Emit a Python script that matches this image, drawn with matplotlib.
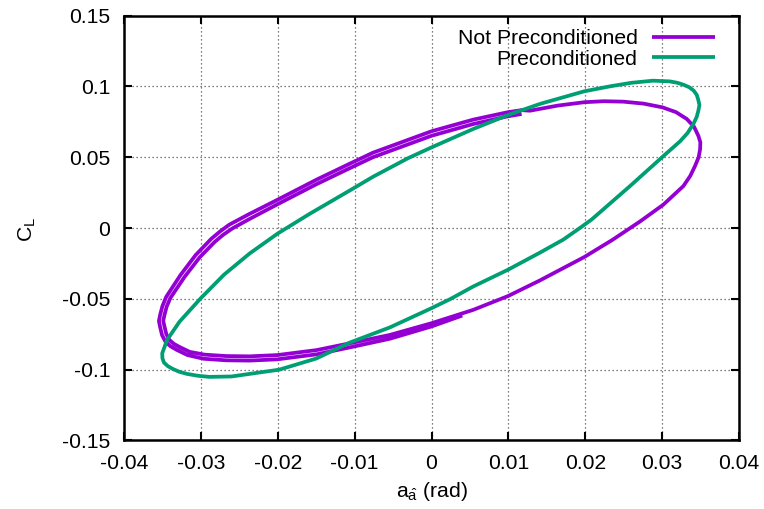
import matplotlib
matplotlib.use("Agg")
import matplotlib.pyplot as plt
from matplotlib.ticker import FixedLocator

plt.rcParams["font.family"] = ["Liberation Sans", "DejaVu Sans"]
plt.rcParams["mathtext.fontset"] = "custom"
plt.rcParams["mathtext.rm"] = "Liberation Sans"
plt.rcParams["axes.unicode_minus"] = False

# Lift coefficient vs. pitch angle, run without preconditioning (transient spiral)
not_pre_alpha = [
    0.01172, 0.00997, 0.00542, 0.0, -0.00760, -0.01064, -0.01497, -0.02005,
    -0.02366, -0.02590, -0.02710, -0.02820, -0.03017, -0.03212, -0.03398,
    -0.03445, -0.03473, -0.03490, -0.03473, -0.03450, -0.03408, -0.03350,
    -0.03277, -0.03147, -0.02952, -0.02669, -0.02366, -0.02005, -0.01497,
    -0.01064, -0.00543, 0.0, 0.00542, 0.00997, 0.01410, 0.01987, 0.02350,
    0.02712, 0.03016, 0.03276, 0.03365, 0.03428, 0.03475, 0.03494, 0.03497,
    0.03471, 0.03415, 0.03320, 0.03180, 0.03003, 0.02760, 0.02495, 0.02240,
    0.01987, 0.01640, 0.01280,
    0.01172, 0.00997, 0.00542, 0.0, -0.00760, -0.01064, -0.01497, -0.02005,
    -0.02380, -0.02632, -0.02752, -0.02866, -0.03068, -0.03265, -0.03452,
    -0.03500, -0.03530, -0.03546, -0.03530, -0.03505, -0.03460, -0.03395,
    -0.03315, -0.03175, -0.02965, -0.02669, -0.02366, -0.02005, -0.01497,
    -0.01064, -0.00543, 0.0, 0.00400,
]
not_pre_cl = [
    0.0805, 0.0789, 0.0734, 0.0651, 0.0500, 0.0422, 0.0309, 0.0167,
    0.0064, -0.0003, -0.0048, -0.0098, -0.0208, -0.0345, -0.0495,
    -0.0555, -0.0613, -0.0655, -0.0696, -0.0748, -0.0791, -0.0818,
    -0.0840, -0.0874, -0.0894, -0.0904, -0.0906, -0.0897, -0.0862,
    -0.0814, -0.0755, -0.0672, -0.0578, -0.0480, -0.0370, -0.0205,
    -0.0085, 0.0046, 0.0165, 0.0296, 0.0367, 0.0438, 0.0500, 0.0557,
    0.0605, 0.0651, 0.0715, 0.0770, 0.0818, 0.0852, 0.0878, 0.0892,
    0.0895, 0.0888, 0.0864, 0.0828,
    0.0832, 0.0818, 0.0765, 0.0683, 0.0532, 0.0454, 0.0341, 0.0199,
    0.0096, 0.0023, -0.0025, -0.0077, -0.0191, -0.0332, -0.0487,
    -0.0551, -0.0613, -0.0656, -0.0700, -0.0756, -0.0803, -0.0835,
    -0.0860, -0.0897, -0.0923, -0.0934, -0.0936, -0.0927, -0.0892,
    -0.0843, -0.0782, -0.0695, -0.0618,
]

# Preconditioned run: periodic loop
pre_alpha = [
    0.01410, 0.00997, 0.00542, 0.0, -0.00305, -0.00760, -0.01000, -0.01300,
    -0.01585, -0.02001, -0.02366, -0.02700, -0.03007, -0.03277, -0.03440,
    -0.03503, -0.03500, -0.03480, -0.03430, -0.03365, -0.03280, -0.03180,
    -0.03040, -0.02890, -0.02600, -0.01980, -0.01497, -0.01064, -0.00543,
    0.0, 0.00250, 0.00542, 0.00997, 0.01410, 0.01714, 0.01930, 0.02083,
    0.02582, 0.03000, 0.03233, 0.03330, 0.03406, 0.03450, 0.03471, 0.03485,
    0.03470, 0.03450, 0.03410, 0.03355, 0.03280, 0.03200, 0.03100, 0.02880,
    0.02600, 0.02320, 0.01987, 0.01410,
]
pre_cl = [
    0.0876, 0.0798, 0.0699, 0.0569, 0.0493, 0.0362, 0.0285, 0.0190,
    0.0100, -0.0039, -0.0180, -0.0330, -0.0499, -0.0661, -0.0790,
    -0.0885, -0.0920, -0.0950, -0.0975, -0.0995, -0.1015, -0.1030,
    -0.1043, -0.1051, -0.1048, -0.1000, -0.0921, -0.0809, -0.0702,
    -0.0566, -0.0500, -0.0413, -0.0294, -0.0174, -0.0082, 0.0, 0.0060,
    0.0296, 0.0500, 0.0612, 0.0670, 0.0734, 0.0785, 0.0828, 0.0868,
    0.0905, 0.0940, 0.0970, 0.0993, 0.1011, 0.1025, 0.1035, 0.1040,
    0.1025, 0.1000, 0.0965, 0.0876,
]

x_ticks = [-0.04, -0.03, -0.02, -0.01, 0.0, 0.01, 0.02, 0.03, 0.04]
x_tick_labels = ["-0.04", "-0.03", "-0.02", "-0.01", "0", "0.01", "0.02", "0.03", "0.04"]
y_ticks = [-0.15, -0.1, -0.05, 0.0, 0.05, 0.1, 0.15]
y_tick_labels = ["-0.15", "-0.1", "-0.05", "0", "0.05", "0.1", "0.15"]

purple = "#9400d3"
green = "#009e73"
fs = 15.2

fig = plt.figure(figsize=(7.64, 5.09), dpi=100)
ax = fig.add_axes([0.1623, 0.1346, 0.8050, 0.8349])

ax.plot(not_pre_alpha, not_pre_cl, color=purple, lw=2.7,
        solid_joinstyle="round", solid_capstyle="butt", label="Not Preconditioned")
ax.plot(pre_alpha, pre_cl, color=green, lw=2.7,
        solid_joinstyle="round", solid_capstyle="butt", label="Preconditioned")

ax.set_xlim(-0.04, 0.04)
ax.set_ylim(-0.15, 0.15)
ax.xaxis.set_major_locator(FixedLocator(x_ticks))
ax.yaxis.set_major_locator(FixedLocator(y_ticks))
ax.set_xticklabels(x_tick_labels)
ax.set_yticklabels(y_tick_labels)

ax.grid(True, color="#555555", linestyle=(0, (1, 2.2)), linewidth=0.9)
ax.set_axisbelow(True)

for s in ax.spines.values():
    s.set_linewidth(1.8)
ax.tick_params(axis="both", which="major", direction="in", length=5.5, width=1.5,
               top=True, right=True, labelsize=fs, colors="black")
ax.tick_params(axis="x", pad=9.5)
ax.tick_params(axis="y", pad=10)

ax.set_xlabel(r"$\mathregular{a_{\hat{a}}}$ (rad)", fontsize=fs, labelpad=5)
fig.text(0.036, 0.55, r"$\mathregular{C_L}$", rotation=90, fontsize=fs,
         ha="center", va="center")

leg = ax.legend(loc="upper right", bbox_to_anchor=(0.981, 0.997), frameon=False,
                markerfirst=False, handlelength=2.95, handletextpad=0.7,
                labelspacing=0.05, fontsize=fs, borderaxespad=0.2)

fig.savefig("out.png", dpi=100)
